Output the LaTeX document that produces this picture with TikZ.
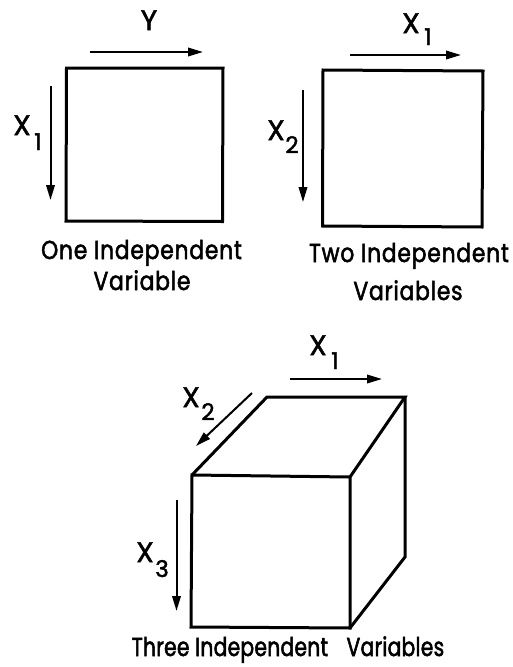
\documentclass[tikz,border=0pt]{standalone}
\usepackage{fontspec}
\setmainfont{Poppins}
\newfontfamily\capfont[FakeBold=2,FakeStretch=0.84,LetterSpace=3]{Poppins}
\newfontfamily\capfontb[FakeBold=2,FakeStretch=0.78,LetterSpace=1]{Poppins}
\newfontfamily\lblfont[FakeBold=1.8]{Poppins}
\usetikzlibrary{arrows.meta}
\begin{document}
\begin{tikzpicture}[x=1pt,y=-1pt,
  edge/.style={line width=3pt,line join=miter,line cap=round},
  axis/.style={line width=2pt,-{Triangle[length=15pt,width=8.5pt]}},
  captxt/.style={font=\capfont\fontsize{26}{30}\selectfont,anchor=base,inner sep=0pt},
  captxtb/.style={font=\capfontb\fontsize{26}{30}\selectfont,anchor=base,inner sep=0pt},
  lbl/.style={font=\lblfont\fontsize{28}{30}\selectfont,anchor=base,inner sep=0pt},
  sub/.style={font=\lblfont\fontsize{23}{26}\selectfont,anchor=base,inner sep=0pt}]
\useasboundingbox (0,0) rectangle (513,667);
% Box 1
\coordinate (a1) at (66.5,68);
\coordinate (a2) at (223,68);
\coordinate (a3) at (222.5,221.5);
\coordinate (a4) at (66,221);
\draw[edge] (a1) -- (a2) -- (a3) -- (a4) -- cycle;
\coordinate (y0) at (90,52); \coordinate (y1) at (203,52);
\draw[axis] (y0) -- (y1);
\node[lbl] (ly) at (149,30) {Y};
\coordinate (p0) at (50.5,86); \coordinate (p1) at (50.5,200);
\draw[axis] (p0) -- (p1);
\node[lbl] (lx1a) at (22,135) {X};
\node[sub] (sx1a) at (38,150) {1};
\node[captxt] (c1a) at (141.5,259) {One Independent};
\node[captxt] (c1b) at (142,290) {Variable};
% Box 2
\coordinate (b1) at (323,70);
\coordinate (b2) at (483,71);
\coordinate (b3) at (482,227);
\coordinate (b4) at (322.5,226);
\draw[edge] (b1) -- (b2) -- (b3) -- (b4) -- cycle;
\coordinate (q0) at (350,55); \coordinate (q1) at (461,55);
\draw[axis] (q0) -- (q1);
\node[lbl] (lx1b) at (411,33) {X};
\node[sub] (sx1b) at (428,45) {1};
\coordinate (r0) at (303,90); \coordinate (r1) at (303,202);
\draw[axis] (r0) -- (r1);
\node[lbl] (lx2b) at (276,140) {X};
\node[sub] (sx2b) at (292,153) {2};
\node[captxt] (c2a) at (409,262) {Two Independent};
\node[captxt] (c2b) at (408,300) {Variables};
% Cube
\coordinate (f1) at (192,475);
\coordinate (f2) at (350,477);
\coordinate (f3) at (350,628);
\coordinate (f4) at (191,627);
\coordinate (k1) at (267,397);
\coordinate (k2) at (405,397);
\coordinate (k3) at (405,557);
\draw[edge] (f1) -- (f2) -- (f3) -- (f4) -- cycle;
\draw[edge] (f1) -- (k1) -- (k2) -- (f2);
\draw[edge] (k2) -- (k3) -- (f3);
\coordinate (s0) at (290,379); \coordinate (s1) at (382,379);
\draw[axis] (s0) -- (s1);
\node[lbl] (lx1c) at (318,355) {X};
\node[sub] (sx1c) at (335,369) {1};
\coordinate (t0) at (252,393); \coordinate (t1) at (196,446);
\draw[axis] (t0) -- (t1);
\node[lbl] (lx2c) at (191,407) {X};
\node[sub] (sx2c) at (208,420) {2};
\coordinate (u0) at (176.5,500); \coordinate (u1) at (176.5,611);
\draw[axis] (u0) -- (u1);
\node[lbl] (lx3c) at (145,562) {X};
\node[sub] (sx3c) at (162,577) {3};
\node[captxtb] (c3) at (288,656) {Three Independent\hspace{0.5em} Variables};
\end{tikzpicture}
\end{document}
